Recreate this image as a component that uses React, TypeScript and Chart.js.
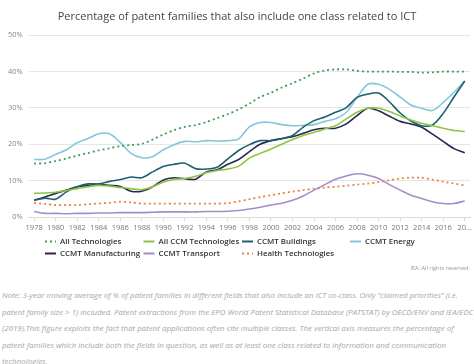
import React, { useEffect, useRef } from "react";
import { Chart, registerables } from "chart.js";

Chart.register(...registerables);

const years = [
  "1978", "1979", "1980", "1981", "1982", "1983", "1984", "1985", "1986", "1987",
  "1988", "1989", "1990", "1991", "1992", "1993", "1994", "1995", "1996", "1997",
  "1998", "1999", "2000", "2001", "2002", "2003", "2004", "2005", "2006", "2007",
  "2008", "2009", "2010", "2011", "2012", "2013", "2014", "2015", "2016", "2017", "2018",
];

const allTechnologies = [
  14.7, 14.8, 15.4, 16.1, 16.9, 17.6, 18.3, 18.9, 19.5, 19.8,
  20.1, 21.3, 22.7, 23.9, 24.8, 25.3, 26.1, 27.2, 28.3, 29.6,
  31.2, 33.0, 34.2, 35.6, 36.8, 38.1, 39.5, 40.3, 40.6, 40.6,
  40.2, 40.0, 40.0, 40.0, 39.9, 39.9, 39.7, 39.8, 40.0, 40.0, 40.0,
];
const allCcm = [
  6.5, 6.6, 6.8, 7.3, 7.8, 8.3, 8.7, 8.5, 8.1, 7.8,
  7.5, 8.3, 9.6, 10.3, 10.6, 11.2, 12.2, 12.8, 13.2, 14.0,
  16.2, 17.5, 18.7, 20.0, 21.3, 22.4, 23.3, 24.2, 25.1, 27.0,
  28.8, 29.9, 29.9, 29.0, 27.8, 26.7, 25.8, 25.1, 24.4, 23.8, 23.5,
];
const ccmtBuildings = [
  4.6, 5.2, 4.9, 6.9, 8.3, 9.1, 9.1, 9.8, 10.3, 11.0,
  10.8, 12.4, 13.9, 14.5, 14.8, 13.3, 13.2, 13.7, 16.0, 18.3,
  19.9, 21.0, 21.0, 21.5, 22.4, 24.7, 26.5, 27.5, 28.8, 30.1,
  32.9, 33.8, 34.1, 31.7, 28.6, 26.4, 25.1, 25.3, 28.5, 33.0, 37.4,
];
const ccmtEnergy = [
  15.8, 15.9, 17.2, 18.5, 20.4, 21.6, 22.9, 22.9, 20.5, 17.5,
  16.3, 16.6, 18.5, 19.9, 20.8, 20.7, 21.0, 20.9, 21.0, 21.5,
  24.8, 26.0, 26.0, 25.4, 25.1, 25.2, 25.4, 26.3, 27.0, 28.8,
  32.9, 36.5, 36.5, 35.1, 33.0, 30.8, 29.9, 29.3, 31.5, 34.3, 37.4,
];
const ccmtManufacturing = [
  4.6, 5.5, 6.5, 7.4, 8.3, 8.7, 9.0, 8.7, 8.4, 7.1,
  7.1, 8.3, 10.2, 10.8, 10.5, 10.4, 12.4, 13.0, 14.5, 15.8,
  18.0, 20.0, 21.0, 21.6, 22.1, 23.0, 24.0, 24.4, 24.4, 25.6,
  27.9, 29.9, 29.2, 27.7, 26.3, 25.6, 24.7, 22.8, 20.8, 18.8, 17.7,
];
const ccmtTransport = [
  1.5, 1.0, 1.0, 0.9, 1.0, 1.0, 1.1, 1.1, 1.2, 1.2,
  1.2, 1.3, 1.4, 1.4, 1.4, 1.4, 1.5, 1.5, 1.6, 1.8,
  2.2, 2.7, 3.3, 3.8, 4.6, 5.8, 7.4, 8.9, 10.4, 11.3,
  11.9, 11.5, 10.6, 8.9, 7.4, 6.0, 5.1, 4.2, 3.7, 3.7, 4.4,
];
const healthTechnologies = [
  3.9, 3.6, 3.3, 3.3, 3.3, 3.5, 3.7, 3.9, 4.2, 4.0,
  3.7, 3.7, 3.7, 3.7, 3.7, 3.7, 3.7, 3.7, 3.8, 4.3,
  4.9, 5.5, 6.0, 6.5, 7.0, 7.4, 7.8, 8.1, 8.3, 8.6,
  8.9, 9.2, 9.6, 10.1, 10.6, 10.8, 10.8, 10.3, 9.7, 9.2, 8.7,
];

const seriesNames = [
  "All Technologies",
  "All CCM Technologies",
  "CCMT Buildings",
  "CCMT Energy",
  "CCMT Manufacturing",
  "CCMT Transport",
  "Health Technologies",
];
const seriesValues = [
  allTechnologies,
  allCcm,
  ccmtBuildings,
  ccmtEnergy,
  ccmtManufacturing,
  ccmtTransport,
  healthTechnologies,
];
const seriesColors = [
  "#3d9e57",
  "#8cc540",
  "#1c5f6e",
  "#84c7da",
  "#2c2752",
  "#a48dcb",
  "#e8843f",
];
const seriesDotted = [true, false, false, false, false, false, true];

const yTicks = [0, 10, 20, 30, 40, 50];

const TITLE = "Percentage of patent families that also include one class related to ICT";
const CREDIT = "IEA. All rights reserved.";
const NOTE_LINES = [
  "Note: 3-year moving average of % of patent families in different fields that also include an ICT co-class. Only \u201cclaimed priorities\u201d (i.e.",
  "patent family size > 1) included. Patent extractions from the EPO World Patent Statistical Database (PATSTAT) by OECD/ENV and IEA/EDC",
  "(2019).This figure exploits the fact that patent applications often cite multiple classes. The vertical axis measures the percentage of",
  "patent families which include both the fields in question, as well as at least one class related to information and communication",
  "technologies.",
];

const FONT = '"Open Sans", "Noto Sans", sans-serif';

const gridLegend = {
  id: "gridLegend",
  afterDraw(chart: any) {
    const ctx = chart.ctx;
    const cols = 4;
    const colX = [45, 143.5, 242, 350];
    const startY = 241.5;
    const rowH = 12;
    const markerW = 11;
    const textGap = 4;
    const font = `600 7.9px ${FONT}`;
    ctx.save();
    chart.data.datasets.forEach((ds: any, i: number) => {
      const x = colX[i % cols];
      const y = startY + Math.floor(i / cols) * rowH;
      ctx.strokeStyle = ds.borderColor;
      ctx.lineWidth = 2;
      ctx.setLineDash(ds.borderDash || []);
      ctx.beginPath();
      ctx.moveTo(x, y);
      ctx.lineTo(x + markerW, y);
      ctx.stroke();
      ctx.setLineDash([]);
      ctx.fillStyle = "#333333";
      ctx.font = font;
      ctx.textBaseline = "middle";
      ctx.textAlign = "left";
      ctx.fillText(ds.label, x + markerW + textGap, y);
    });
    ctx.restore();
  },
};

function LineChart() {
  const ref = useRef<HTMLCanvasElement | null>(null);
  useEffect(() => {
    if (!ref.current) return;
    const chart = new Chart(ref.current, {
      type: "line",
      data: {
        labels: years,
        datasets: seriesNames.map((name, i) => ({
          label: name,
          data: seriesValues[i],
          borderColor: seriesColors[i],
          backgroundColor: seriesColors[i],
          borderWidth: seriesDotted[i] ? 1.8 : 1.6,
          borderDash: seriesDotted[i] ? [2, 3] : [],
          pointRadius: 0,
          tension: 0.3,
          fill: false,
        })),
      },
      options: {
        animation: false,
        responsive: false,
        maintainAspectRatio: false,
        layout: { padding: { left: 2, right: 2, top: 0, bottom: 36 } },
        plugins: {
          legend: { display: false },
          tooltip: { enabled: false },
          title: {
            display: true,
            text: TITLE,
            color: "#444444",
            font: { family: FONT, size: 11, weight: "normal" },
            padding: { top: 10, bottom: 12 },
          },
        },
        scales: {
          x: {
            offset: true,
            afterBuildTicks: (axis: any) => {
              axis.ticks = axis.ticks.filter((t: any, i: number) => i % 2 === 0);
            },
            grid: {
              drawOnChartArea: false,
              drawTicks: true,
              tickLength: 4,
              color: "#d9d9d9",
            },
            border: { display: true, color: "#d9d9d9" },
            ticks: {
              autoSkip: false,
              maxRotation: 0,
              minRotation: 0,
              padding: 2,
              color: "#777777",
              font: { family: FONT, size: 7.5 },
              callback: function (value: any) {
                const lbl = years[value as number];
                return lbl === "2018" ? "20..." : lbl;
              },
            },
          },
          y: {
            min: yTicks[0],
            max: yTicks[yTicks.length - 1],
            afterBuildTicks: (axis: any) => {
              axis.ticks = yTicks.map((v) => ({ value: v }));
            },
            grid: { color: "#e6e6e6", drawTicks: false },
            border: { display: false },
            ticks: {
              padding: 6,
              color: "#888888",
              font: { family: FONT, size: 7.5 },
              callback: (v: any) => `${v}%`,
            },
          },
        },
      },
      plugins: [gridLegend],
    });
    return () => chart.destroy();
  }, []);
  return <canvas ref={ref} width={474} height={270} style={{ display: "block" }} />;
}

export default function App() {
  return (
    <div
      style={{
        position: "absolute",
        left: 0,
        top: 0,
        width: 474,
        height: 364,
        background: "#ffffff",
        overflow: "hidden",
        fontFamily: FONT,
      }}
    >
      <LineChart />
      <div
        style={{
          position: "absolute",
          top: 264,
          right: 4,
          fontSize: 5.6,
          color: "#999999",
          whiteSpace: "nowrap",
        }}
      >
        {CREDIT}
      </div>
      <div
        style={{
          position: "absolute",
          top: 287,
          left: 2,
          fontSize: 7.9,
          lineHeight: "16.6px",
          fontStyle: "italic",
          color: "#a6a6a6",
          whiteSpace: "nowrap",
        }}
      >
        {NOTE_LINES.map((l, i) => (
          <div key={i}>{l}</div>
        ))}
      </div>
    </div>
  );
}
